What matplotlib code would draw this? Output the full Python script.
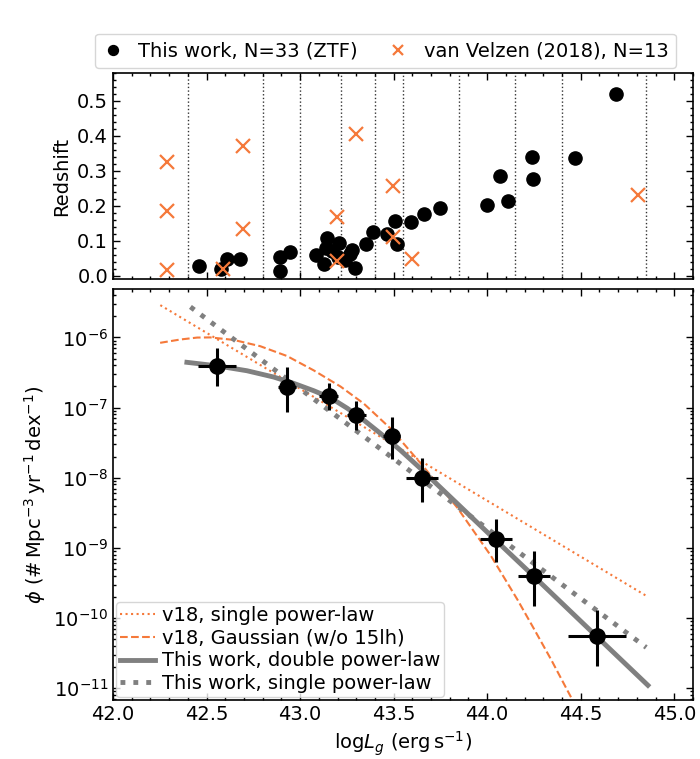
#!/usr/bin/env python
"""
TDE luminosity function: redshift vs. peak g-band luminosity (top) and
the binned LF with model curves (bottom).
"""
import numpy as np
import matplotlib.pyplot as plt
from matplotlib.ticker import MultipleLocator, LogLocator, NullFormatter

plt.rcParams['font.size'] = 14

orange = '#f5793a'

# --- top panel: sample redshifts --------------------------------------
ztf_logL = [42.46, 42.58, 42.61, 42.68, 42.89, 42.89, 42.945, 43.087, 43.127,
            43.145, 43.141, 43.207, 43.20, 43.17, 43.24, 43.269, 43.278,
            43.296, 43.35, 43.391, 43.462, 43.505, 43.52, 43.591, 43.662,
            43.75, 44.0, 44.07, 44.112, 44.237, 44.244, 44.469, 44.689]
ztf_z = [0.027, 0.018, 0.046, 0.046, 0.052, 0.013, 0.067, 0.060, 0.032,
         0.108, 0.080, 0.093, 0.054, 0.070, 0.045, 0.062, 0.074,
         0.022, 0.091, 0.126, 0.120, 0.155, 0.089, 0.152, 0.177,
         0.192, 0.203, 0.285, 0.212, 0.339, 0.277, 0.337, 0.519]

v18_logL = [42.29, 42.29, 42.29, 42.59, 42.695, 42.695, 43.198, 43.198,
            43.298, 43.498, 43.498, 43.60, 44.805]
v18_z = [0.325, 0.184, 0.016, 0.019, 0.370, 0.134, 0.169, 0.043,
         0.404, 0.255, 0.110, 0.048, 0.232]

bin_edges = [42.4, 42.8, 43.0, 43.22, 43.4, 43.55, 43.85, 44.15, 44.4, 44.85]

# --- bottom panel: binned LF (log10 phi) -------------------------------
lf_logL = [42.557, 42.93, 43.152, 43.30, 43.49, 43.65, 44.045, 44.25, 44.586]
lf_xerr = [0.10, 0.05, 0.05, 0.05, 0.045, 0.085, 0.085, 0.085, 0.155]
lf_logphi = [-6.41, -6.71, -6.83, -7.11, -7.41, -8.01, -8.87, -9.40, -10.25]
lf_logphi_lo = [-6.69, -7.06, -7.03, -7.32, -7.74, -8.35, -9.20, -9.83, -10.68]
lf_logphi_hi = [-6.15, -6.42, -6.645, -6.91, -7.13, -7.72, -8.59, -9.04, -9.89]

# model curves
v18_pl_x = [42.253, 44.86]
v18_pl_y = [-5.54, -9.70]

v18_gau_x = [42.252, 42.359, 42.45, 42.52, 42.644, 42.787, 42.93, 43.073,
             43.216, 43.341, 43.484, 43.662, 43.841, 44.019, 44.162, 44.251,
             44.341, 44.448]
v18_gau_y = [-6.077, -6.03, -6.002, -6.0, -6.035, -6.125, -6.265, -6.47,
             -6.70, -6.945, -7.30, -7.85, -8.43, -9.11, -9.74, -10.16,
             -10.59, -11.13]

dpl_x = [42.395, 42.555, 42.716, 42.859, 42.966, 43.073, 43.162, 43.252,
         43.341, 43.43, 43.537, 43.644, 44.037, 44.243, 44.576, 44.859]
dpl_y = [-6.355, -6.405, -6.475, -6.565, -6.655, -6.76, -6.86, -7.01,
         -7.18, -7.37, -7.61, -7.87, -8.87, -9.39, -10.24, -10.96]

spl_x = [42.414, 44.85]
spl_y = [-5.565, -10.42]

fig = plt.figure(figsize=(7, 7.59), dpi=100)
ax1 = fig.add_axes([0.1614, 0.6324, 0.8286, 0.2714])
ax2 = fig.add_axes([0.1614, 0.0777, 0.8286, 0.5415], sharex=ax1)

# top
for e in bin_edges:
    ax1.axvline(e, color='k', ls=':', lw=1, alpha=0.8, zorder=0)
ax1.plot(ztf_logL, ztf_z, 'o', color='k', ms=9.5, ls='none',
         label='This work, N=33 (ZTF)')
ax1.plot(v18_logL, v18_z, 'x', color=orange, ms=10, mew=1.6, ls='none',
         label='van Velzen (2018), N=13')
ax1.set_ylim(-0.01, 0.58)
ax1.set_ylabel('Redshift')
ax1.yaxis.set_major_locator(MultipleLocator(0.1))
ax1.yaxis.set_minor_locator(MultipleLocator(0.02))
ax1.tick_params(labelbottom=False)
ax1.legend(loc='lower center', bbox_to_anchor=(0.47, 1.0), ncol=2,
           borderaxespad=0.25, handlelength=1.0, columnspacing=1.6,
           markerscale=0.75, fontsize=14)

# bottom
ax2.plot(v18_pl_x, 10**np.array(v18_pl_y), ':', color=orange, lw=1.5,
         label='v18, single power-law')
ax2.plot(v18_gau_x, 10**np.array(v18_gau_y), '--', color=orange, lw=1.5,
         label='v18, Gaussian (w/o 15lh)')
ax2.plot(dpl_x, 10**np.array(dpl_y), '-', color='gray', lw=3.5,
         label='This work, double power-law')
ax2.plot(spl_x, 10**np.array(spl_y), ':', color='gray', lw=3.5,
         label='This work, single power-law')

phi = 10**np.array(lf_logphi)
yerr = [phi - 10**np.array(lf_logphi_lo), 10**np.array(lf_logphi_hi) - phi]
ax2.errorbar(lf_logL, phi, xerr=lf_xerr, yerr=yerr, fmt='o', color='k',
             ms=11, elinewidth=2.2, capsize=0, zorder=5)

ax2.set_yscale('log')
ax2.set_ylim(10**-11.17, 10**-5.31)
ax2.set_xlim(42.0, 45.1)
ax2.set_xlabel(r'$\mathrm{log}L_g$ ($\mathrm{erg\,s^{-1}}$)')
ax2.set_ylabel(r'$\phi$ (#$\,\mathrm{Mpc^{-3}\,yr^{-1}\,dex^{-1}}$)')
ax2.xaxis.set_major_locator(MultipleLocator(0.5))
ax2.xaxis.set_minor_locator(MultipleLocator(0.1))
ax2.yaxis.set_major_locator(LogLocator(base=10, numticks=20))
ax2.yaxis.set_minor_locator(LogLocator(base=10, subs=np.arange(2, 10),
                                       numticks=20))
ax2.yaxis.set_minor_formatter(NullFormatter())
ax2.legend(loc='lower left', borderaxespad=0.15, handlelength=1.8,
           handletextpad=0.35, labelspacing=0.2, borderpad=0.2, fontsize=14)

for ax in (ax1, ax2):
    ax.tick_params(which='both', direction='in', top=True, right=True,
                   labelsize=14)
    ax.tick_params(which='major', length=5, width=1)
    ax.tick_params(which='minor', length=2.5, width=1)
    for s in ax.spines.values():
        s.set_linewidth(1.2)

plt.savefig('out.png', dpi=100)
